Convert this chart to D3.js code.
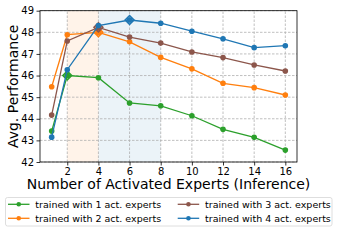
<!DOCTYPE html>
<html>
<head>
<meta charset="utf-8">
<script src="https://cdn.jsdelivr.net/npm/d3@7"></script>
<style>
  body { margin: 0; background: #fff; }
  text { font-family: "DejaVu Sans", sans-serif; fill: #000; }
</style>
</head>
<body>
<svg id="chart" width="338" height="242"></svg>
<script>
// data
var xsteps = [1, 2, 4, 6, 8, 10, 12, 14, 16];
var xticks = [2, 4, 6, 8, 10, 12, 14, 16];
var yticks = [42, 43, 44, 45, 46, 47, 48, 49];
var train1 = [43.43, 46.0, 45.9, 44.73, 44.6, 44.14, 43.51, 43.14, 42.55];
var train2 = [45.48, 47.89, 48.0, 47.56, 46.84, 46.31, 45.64, 45.44, 45.1];
var train3 = [44.17, 47.6, 48.23, 47.78, 47.5, 47.09, 46.83, 46.49, 46.21];
var train4 = [43.15, 46.27, 48.31, 48.57, 48.42, 48.05, 47.7, 47.29, 47.38];
var names = ["trained with 1 act. experts", "trained with 2 act. experts",
             "trained with 3 act. experts", "trained with 4 act. experts"];
var colors = ["#2ca02c", "#ff7f0e", "#8c564b", "#1f77b4"];
var best = [2, 4, 4, 6];   // diamond marker at training setting
var bands = [[2, 4, "#ff7f0e"], [4, 8, "#1f77b4"]];

var series = [train1, train2, train3, train4];

var svg = d3.select('#chart');
var margin = { left: 40, top: 10.7, right: 297, bottom: 162 };

var x = d3.scaleLinear().domain([0.25, 16.75]).range([margin.left, margin.right]);
var y = d3.scaleLinear().domain([42, 49]).range([margin.bottom, margin.top]);

// shaded spans
svg.selectAll('.band')
    .data(bands)
    .enter()
    .append('rect')
    .attr('x', d => x(d[0]))
    .attr('width', d => x(d[1]) - x(d[0]))
    .attr('y', y(49))
    .attr('height', y(42) - y(49))
    .attr('fill', d => d[2])
    .attr('fill-opacity', 0.09);

// grid
svg.append('g')
    .selectAll('line')
    .data(xticks)
    .enter()
    .append('line')
    .attr('x1', d => x(d)).attr('x2', d => x(d))
    .attr('y1', y(42)).attr('y2', y(49))
    .attr('stroke', '#b0b0b0').attr('stroke-width', 0.8)
    .attr('stroke-dasharray', '2.5,1.5');
svg.append('g')
    .selectAll('line')
    .data(yticks)
    .enter()
    .append('line')
    .attr('x1', margin.left).attr('x2', margin.right)
    .attr('y1', d => y(d)).attr('y2', d => y(d))
    .attr('stroke', '#b0b0b0').attr('stroke-width', 0.8)
    .attr('stroke-dasharray', '2.5,1.5');

// axes
var xAxis = svg.append('g')
    .attr('transform', 'translate(0,' + margin.bottom + ')')
    .call(d3.axisBottom(x).tickValues(xticks).tickFormat(d3.format('d')).tickSize(3.5).tickPadding(2.5));
var yAxis = svg.append('g')
    .attr('transform', 'translate(' + margin.left + ',0)')
    .call(d3.axisLeft(y).tickValues(yticks).tickFormat(d3.format('d')).tickSize(3.5).tickPadding(2.5));
[xAxis, yAxis].forEach(function (a) {
    a.select('.domain').remove();
    a.selectAll('text').style('font-family', '"DejaVu Sans", sans-serif').style('font-size', '10px');
    a.selectAll('.tick line').attr('stroke', '#000').attr('stroke-width', 0.8);
});

// frame
svg.append('rect')
    .attr('x', margin.left).attr('y', margin.top)
    .attr('width', margin.right - margin.left)
    .attr('height', margin.bottom - margin.top)
    .attr('fill', 'none').attr('stroke', '#000').attr('stroke-width', 0.8);

// lines + markers
var line = d3.line().x((d, i) => x(xsteps[i])).y(d => y(d));
series.forEach(function (s, k) {
    var g = svg.append('g');
    g.append('path')
        .attr('d', line(s))
        .attr('fill', 'none')
        .attr('stroke', colors[k])
        .attr('stroke-width', 1.3);
    g.selectAll('circle')
        .data(s)
        .enter()
        .append('circle')
        .attr('cx', (d, i) => x(xsteps[i]))
        .attr('cy', d => y(d))
        .attr('r', 2.8)
        .attr('fill', colors[k]);
    var bi = xsteps.indexOf(best[k]);
    g.append('path')
        .attr('d', d3.symbol().type(d3.symbolSquare).size(40)())
        .attr('transform', 'translate(' + x(xsteps[bi]) + ',' + y(s[bi]) + ') rotate(45)')
        .attr('fill', colors[k])
        .attr('fill-opacity', 0.35)
        .attr('stroke', colors[k])
        .attr('stroke-width', 1.5);
});

// axis titles
svg.append('text')
    .attr('x', 168.5)
    .attr('y', 189)
    .attr('text-anchor', 'middle')
    .style('font-size', '14px')
    .text('Number of Activated Experts (Inference)');
svg.append('text')
    .attr('transform', 'translate(17.5,' + ((margin.top + margin.bottom) / 2) + ') rotate(-90)')
    .attr('text-anchor', 'middle')
    .style('font-size', '14px')
    .text('Avg. Performance');

// legend
var leg = svg.append('g');
leg.append('rect')
    .attr('x', 5.5).attr('y', 197.5)
    .attr('width', 326.5).attr('height', 28.5)
    .attr('rx', 2)
    .attr('fill', '#fff').attr('stroke', '#d6d6d6').attr('stroke-width', 0.8);
var legPos = [[8, 204.3], [8, 218.3], [177.7, 204.3], [177.7, 218.3]];
names.forEach(function (n, k) {
    var p = legPos[k];
    var e = leg.append('g').attr('transform', 'translate(' + p[0] + ',' + p[1] + ')');
    e.append('line').attr('x1', 0).attr('x2', 21.5)
        .attr('stroke', colors[k]).attr('stroke-width', 1.3);
    e.append('circle').attr('cx', 10.75).attr('r', 2.3).attr('fill', colors[k]);
    e.append('text').attr('x', 27.3).attr('dy', '0.35em')
        .style('font-size', '9.5px')
        .text(n);
});
</script>
</body>
</html>
